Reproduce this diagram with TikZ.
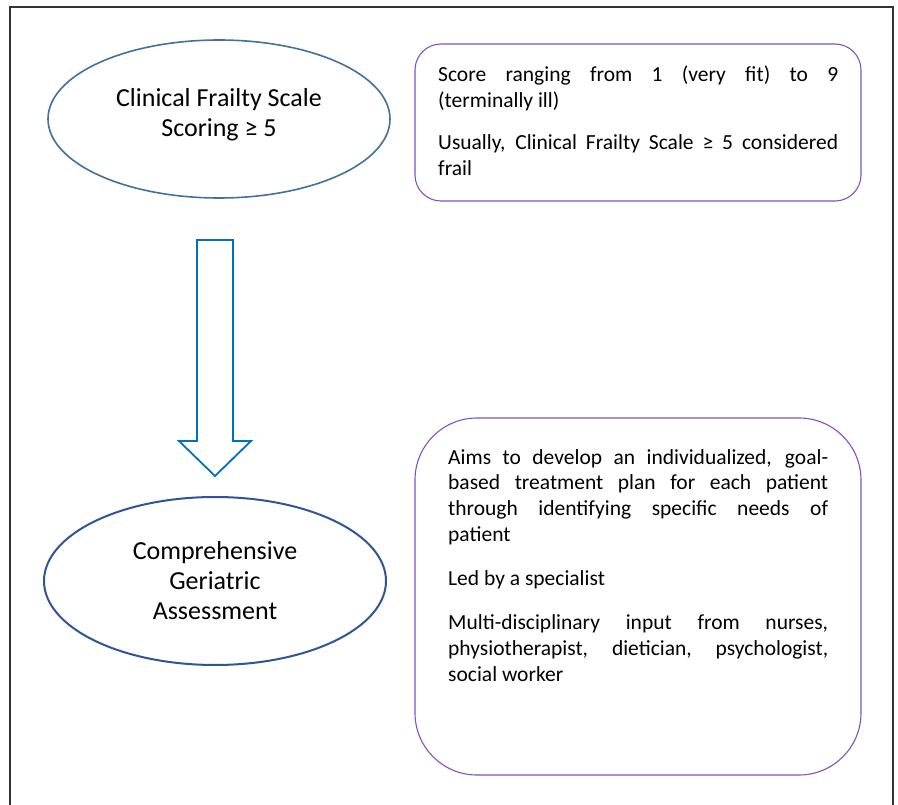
\documentclass[tikz,border=0pt]{standalone}
\usepackage{fontspec}
\setmainfont{Carlito}
\usetikzlibrary{shapes.geometric}
\definecolor{cfsblue}{RGB}{65,113,156}
\definecolor{cgablue}{RGB}{47,85,151}
\definecolor{arrowblue}{RGB}{0,112,192}
\definecolor{boxpurple}{RGB}{128,82,190}
\tikzset{
  oval/.style={ellipse, draw, minimum width=342pt, align=center, font=\fontsize{26}{30}\selectfont},
  infobox/.style={draw=boxpurple, line width=1.1pt, minimum width=446pt},
  infotext/.style={text width=400pt, align=justify, inner sep=0pt, font=\fontsize{21.5}{25.7}\selectfont}
}
\begin{document}
\begin{tikzpicture}[x=1pt, y=-1pt]
		%%%%% START %%%%%
		\useasboundingbox (0, 0) rectangle (898, 805);
		\draw[line width=1.4pt, color=black!80] (10, 806) -- (10, 7) -- (893, 7) -- (893, 806);
		
		% frailty scale
		\node[oval, draw=cfsblue, line width=1.6pt, minimum height=158pt] (cfs) at (219, 119) {Clinical Frailty Scale\\Scoring ≥ 5\\[-16pt]};
		\node[infobox, rounded corners=26pt, minimum height=157pt] (scorebox) at (638, 122.5) {};
		\node[infotext, anchor=north west] (scoretext) at (438, 66) {Score ranging from 1 (very fit) to 9\linebreak (terminally ill)\par\vspace{16pt}Usually, Clinical Frailty Scale ≥ 5 considered\linebreak frail};
		
		% block arrow
		\draw[line width=1.8pt, color=arrowblue, line join=miter]
			(197, 240) -- (233, 240) -- (233, 441) -- (251, 441) -- (215, 476)
			-- (179, 441) -- (197, 441) -- cycle;
		
		% geriatric assessment
		\node[oval, draw=cgablue, line width=2pt, minimum height=168pt] (cga) at (215, 581) {Comprehensive\\Geriatric\\Assessment};
		\node[infobox, rounded corners=62pt, minimum height=357pt] (cgabox) at (638, 596.5) {};
		\node[infotext, text width=380pt, anchor=north west] (cgatext) at (448, 449) {Aims to develop an individualized, goal-\linebreak based treatment plan for each patient\linebreak through identifying specific needs of\linebreak patient\par\vspace{19pt}Led by a specialist\par\vspace{18pt}Multi-disciplinary input from nurses,\linebreak physiotherapist, dietician, psychologist,\linebreak social worker};
		%%%%% END %%%%%
\end{tikzpicture}
\end{document}
